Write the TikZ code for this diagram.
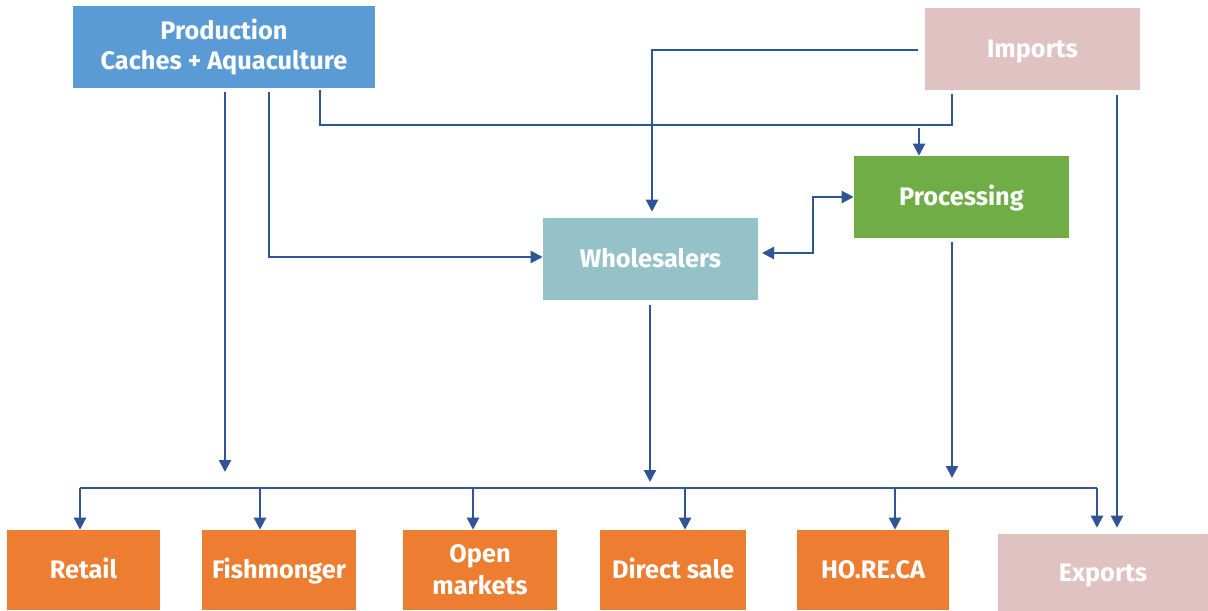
\documentclass[tikz,border=0pt]{standalone}
\usepackage{fontspec}
\setmainfont{Fira Sans}
\usetikzlibrary{arrows.meta,calc}
\definecolor{lineblue}{RGB}{47,85,151}
\definecolor{prodblue}{RGB}{91,155,213}
\definecolor{imppink}{RGB}{224,194,195}
\definecolor{procgreen}{RGB}{112,173,71}
\definecolor{wholeteal}{RGB}{149,194,201}
\definecolor{outorange}{RGB}{237,125,49}
\tikzset{
  box/.style={rectangle, inner sep=0pt, text=white, align=center,
    font=\fontsize{19}{22}\selectfont\bfseries},
  one/.style={box, text height=13pt, text depth=0pt},
  conn/.style={draw=lineblue, line width=1.6pt},
  arr/.style={conn, -{Triangle[length=9pt,width=9pt]}},
  darr/.style={conn, {Triangle[length=9pt,width=9pt]}-{Triangle[length=9pt,width=9pt]}},
}
\begin{document}
\begin{tikzpicture}[x=0.75pt,y=-0.75pt]
\useasboundingbox (0,0) rectangle (1208,611);
% boxes
\node[box, fill=prodblue, minimum width=302*0.75pt, minimum height=82*0.75pt] (prod) at (224,47) {Production\\Caches + Aquaculture};
\node[one, fill=imppink, minimum width=215*0.75pt, minimum height=82*0.75pt] (imp) at (1032.5,49) {Imports};
\node[one, fill=procgreen, minimum width=215*0.75pt, minimum height=82*0.75pt] (proc) at (961.5,197) {Processing};
\node[one, fill=wholeteal, minimum width=215*0.75pt, minimum height=82*0.75pt] (whole) at (650.5,259) {Wholesalers};
\node[one, fill=outorange, minimum width=153*0.75pt, minimum height=80*0.75pt] (retail) at (83.5,570) {Retail};
\node[one, fill=outorange, minimum width=154*0.75pt, minimum height=80*0.75pt] (fish) at (279,570) {Fishmonger};
\node[box, fill=outorange, minimum width=154*0.75pt, minimum height=80*0.75pt, font=\fontsize{19}{24}\selectfont\bfseries] (open) at (480,570) {Open\\markets};
\node[one, fill=outorange, minimum width=146*0.75pt, minimum height=80*0.75pt] (direct) at (673,570) {Direct sale};
\node[one, fill=outorange, minimum width=152*0.75pt, minimum height=80*0.75pt] (horeca) at (873,570) {HO.RE.CA};
\node[one, fill=imppink, minimum width=210*0.75pt, minimum height=77*0.75pt] (exp) at (1103,572.5) {Exports};
% helper coordinates
\coordinate (p1) at (225,92);
\coordinate (p1e) at (225,472);
\coordinate (p2) at (269,92);
\coordinate (p2c) at (269,257);
\coordinate (p3) at (320,90);
\coordinate (i1) at (952,94);
\coordinate (jn) at (952,125);
\coordinate (pr1) at (919,128);
\coordinate (i2) at (918,50);
\coordinate (i2c) at (652,50);
\coordinate (w1) at (650,305);
\coordinate (w1e) at (650,482);
\coordinate (pc1) at (952,242);
\coordinate (pc1e) at (952,478);
\coordinate (i3) at (1117,95);
\coordinate (wr) at (762,253);
\coordinate (mid) at (813,253);
\coordinate (busL) at (80,488);
\coordinate (busR) at (1097,488);
% connectors
\draw[arr] (p1) -- (p1e);
\draw[arr] (p2) -- (p2c) -- (whole.west |- p2c);
\draw[conn] (p3) |- (jn) -- (i1);
\draw[arr] (pr1) -- (proc.north -| pr1);
\draw[arr] (i2) -- (i2c) -- ($(whole.north -| i2c)+(0,-6)$);
\draw[darr] (wr) -- (mid) |- (proc.west);
\draw[arr] (w1) -- (w1e);
\draw[arr] (pc1) -- (pc1e);
\draw[arr] (i3) -- ($(exp.north -| i3)+(0,-6)$);
\draw[conn] (busL) -- (busR);
\draw[arr] (busL) -- (retail.north -| busL);
\draw[arr] (busL -| 260,0) -- (fish.north -| 260,0);
\draw[arr] (busL -| 473,0) -- (open.north -| 473,0);
\draw[arr] (busL -| 685,0) -- (direct.north -| 685,0);
\draw[arr] (busL -| 895,0) -- (horeca.north -| 895,0);
\draw[arr] (busR) -- ($(exp.north -| busR)+(0,-6)$);
\end{tikzpicture}
\end{document}
